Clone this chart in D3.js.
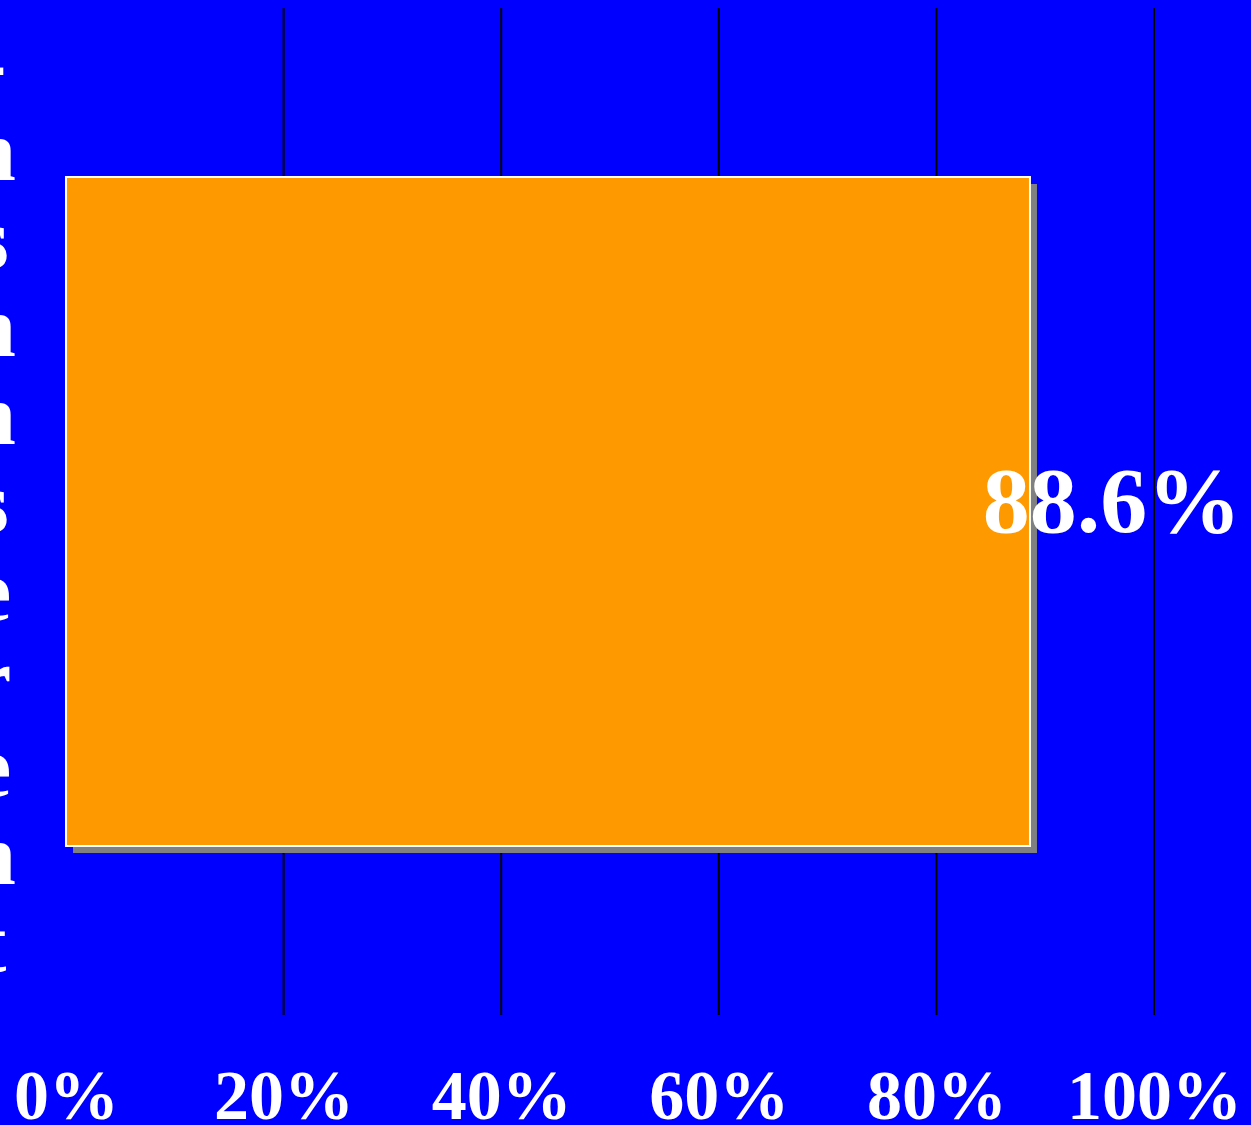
<!DOCTYPE html>
<meta charset="utf-8">
<style>
body { margin: 0; background: #0000ff; }
text { font-family: "Liberation Serif", "Times New Roman", serif; font-weight: bold; fill: #fff; }
.tick text { font-size: 70px; }
.grid line { stroke: #000; stroke-width: 2; }
</style>
<body>
<script src="https://d3js.org/d3.v7.min.js"></script>
<script>
// data
const categories = ["-nsnnserent"];
const values = [88.6];
const tickValues = [0, 20, 40, 60, 80, 100];
const labelChars = ["-", "n", "s", "n", "n", "s", "e", "r", "e", "n", "t"];

const W = 1251, H = 1125;

var x = d3.scaleLinear().domain([0, 100]).range([66, 1154]);
var y = d3.scaleBand().domain(categories).range([8, 1015]).paddingInner(0).paddingOuter(0.2526);

var svg = d3.select("body").append("svg")
    .attr("width", W)
    .attr("height", H)
    .style("display", "block");

svg.append("rect").attr("width", W).attr("height", H).attr("fill", "#0000ff");

// vertical gridlines (no line at 0)
svg.append("g")
    .attr("class", "grid")
  .selectAll("line")
    .data(tickValues.filter(d => d > 0))
  .enter().append("line")
    .attr("x1", d => x(d)).attr("x2", d => x(d))
    .attr("y1", 8).attr("y2", 1015);

// bar shadow
svg.selectAll(".shadow")
    .data(values)
  .enter().append("rect")
    .attr("x", x(0) + 7)
    .attr("y", (d, i) => y(categories[i]) + 7)
    .attr("width", d => x(d) - x(0))
    .attr("height", y.bandwidth())
    .attr("fill", "#808080");

// bar
svg.selectAll(".bar")
    .data(values)
  .enter().append("rect")
    .attr("class", "bar")
    .attr("x", x(0))
    .attr("y", (d, i) => y(categories[i]))
    .attr("width", d => x(d) - x(0))
    .attr("height", y.bandwidth())
    .attr("fill", "#ff9900")
    .attr("stroke", "#fff")
    .attr("stroke-width", 2);

// value label
svg.selectAll(".val")
    .data(values)
  .enter().append("text")
    .attr("x", d => x(d) + 82)
    .attr("y", (d, i) => y(categories[i]) + y.bandwidth() / 2 + 20)
    .attr("text-anchor", "middle")
    .style("font-size", "94px")
    .text(d => d.toFixed(1) + "%");

// x axis
var xAxis = svg.append("g")
    .attr("transform", "translate(0,1015)")
    .call(d3.axisBottom(x).tickValues(tickValues).tickSize(0).tickPadding(0).tickFormat(d => d + "%"));
xAxis.select(".domain").remove();
xAxis.selectAll(".tick text").attr("dy", 0).attr("y", 104);

// stacked category label, clipped at the left edge
svg.append("g")
  .selectAll("text")
    .data(labelChars)
  .enter().append("text")
    .attr("x", -8)
    .attr("y", (d, i) => 92 + i * 88)
    .attr("text-anchor", "middle")
    .style("font-size", "86px")
    .text(d => d);
</script>
</body>
